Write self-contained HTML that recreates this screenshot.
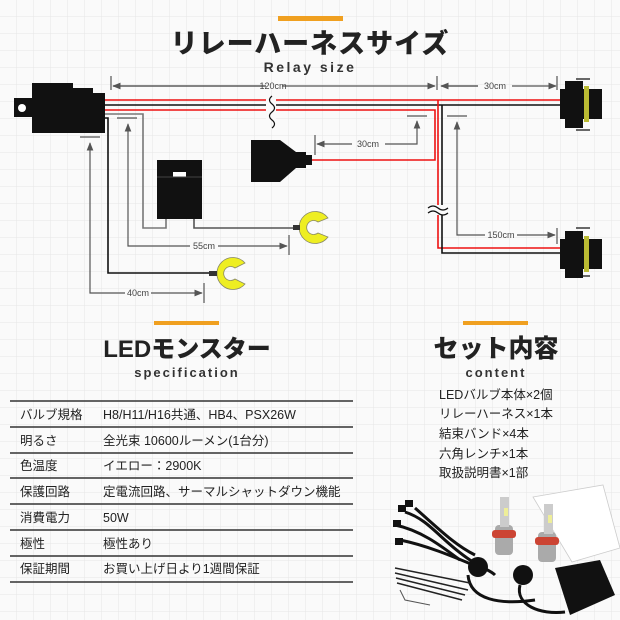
<!DOCTYPE html>
<html><head><meta charset="utf-8"><style>
html,body{margin:0;padding:0;}
body{width:620px;height:620px;overflow:hidden;background:#fafafa;}
svg{display:block;}
.jp{font-family:"Liberation Sans","Noto Sans CJK JP",sans-serif;}
</style></head><body>
<svg width="620" height="620" viewBox="0 0 620 620" xmlns="http://www.w3.org/2000/svg">
<defs>
<pattern id="g" width="17" height="17" patternUnits="userSpaceOnUse">
<path d="M17 0V17M0 17H17" stroke="#e6e6e6" stroke-width="1" fill="none"/>
</pattern>
<marker id="a" viewBox="0 0 10 10" refX="9" refY="5" markerWidth="7" markerHeight="7" orient="auto-start-reverse"><path d="M0 1L10 5L0 9z" fill="#555"/></marker>
</defs>
<rect width="620" height="620" fill="#fafafa"/>
<rect width="620" height="620" fill="url(#g)"/>

<!-- header -->
<rect x="278" y="16" width="65" height="5" fill="#f0a020"/>
<text x="310" y="53" text-anchor="middle" class="jp" font-size="27" font-weight="900" fill="#222" letter-spacing="1">リレーハーネスサイズ</text>
<text x="310" y="72" text-anchor="middle" font-family="Liberation Sans,sans-serif" font-size="14" font-weight="bold" fill="#333" letter-spacing="2.5">Relay size</text>

<!-- relay -->
<rect x="14" y="98" width="20" height="19" fill="#111"/>
<circle cx="22" cy="108" r="4" fill="#fff"/>
<path d="M32 83H73V88H93V93H105V133H32z" fill="#111"/>

<!-- main wires -->
<g fill="none" stroke-width="1.6">
<path d="M105 100H560" stroke="#e11"/>
<path d="M105 105H560" stroke="#111"/>
<path d="M105 110H435V160H312" stroke="#e11"/>
<path d="M438 100V248H560" stroke="#e11"/>
<path d="M442 105V253H560" stroke="#111"/>
<path d="M105 114H143V228H166V219" stroke="#777"/>
<path d="M194 219V228H295" stroke="#555"/>
<path d="M105 118H108V273H210" stroke="#111"/>
</g>
<!-- break marks -->
<rect x="266" y="98" width="10" height="22" fill="#fafafa"/>
<path d="M272 96q-5 4 0 8q5 4 0 8q-5 4 0 8q5 4 0 8" stroke="#111" fill="none" stroke-width="1.2"/>
<rect x="430" y="205" width="18" height="10" fill="#fafafa"/>
<path d="M428 208q5-4 10 0q5 4 10 0M428 213q5-4 10 0q5 4 10 0" stroke="#111" fill="none" stroke-width="1.2"/>

<!-- bulb connectors -->
<g fill="#111">
<rect x="560" y="89" width="42" height="30"/><rect x="565" y="81" width="18" height="47"/>
<rect x="560" y="239" width="42" height="30"/><rect x="565" y="231" width="18" height="47"/>
</g>
<rect x="584" y="86" width="5" height="36" fill="#bb3"/>
<rect x="584" y="236" width="5" height="36" fill="#bb3"/>
<path d="M576 79H590M576 130H590M576 228H590M576 276H590" stroke="#111" stroke-width="1.2"/>

<!-- middle connector -->
<path d="M251 140H280L296 152H306V168H296L280 182H251z" fill="#111"/>
<rect x="306" y="155" width="6" height="10" fill="#111"/>

<!-- fuse box -->
<rect x="157" y="160" width="45" height="59" fill="#111"/>
<rect x="173" y="172" width="13" height="5" fill="#fff"/>
<path d="M157 177H202" stroke="#444" stroke-width="1"/>

<!-- yellow terminals -->
<g fill="#ee2" stroke="#886" stroke-width="0.8">
<path d="M328 218A16 16 0 1 0 328 237L318 233A7 7 0 1 1 318 222z"/>
<path d="M245 263A16 16 0 1 0 245 284L235 279A7 7 0 1 1 235 268z"/>
</g>
<rect x="293" y="225" width="7" height="5" fill="#333"/>
<rect x="209" y="271" width="8" height="5" fill="#333"/>

<!-- dimensions -->
<g stroke="#555" stroke-width="1.2" fill="none">
<path d="M111 76V90M437 76V90M557 76V90"/>
<path d="M113 86H266M282 86H435" marker-end="url(#a)"/>
<path d="M113 86H266" marker-start="url(#a)" marker-end=""/>
<path d="M441 86H478M512 86H556" marker-end="url(#a)"/>
<path d="M441 86H478" marker-start="url(#a)" marker-end=""/>
<path d="M117 118H137M80 137H100M289 235V255M204 283V303M407 116H427M315 135V155M447 116H467M557 228V244"/>
<path d="M128 124V246H190" marker-start="url(#a)"/>
<path d="M218 246H287" marker-end="url(#a)"/>
<path d="M90 143V293H125" marker-start="url(#a)"/>
<path d="M151 293H202" marker-end="url(#a)"/>
<path d="M417 121V144H385" marker-start="url(#a)"/>
<path d="M352 144H317" marker-end="url(#a)"/>
<path d="M457 122V235H485" marker-start="url(#a)"/>
<path d="M517 235H555" marker-end="url(#a)"/>
</g>
<g font-family="Liberation Sans,sans-serif" font-size="9" fill="#444" text-anchor="middle">
<text x="273" y="89">120cm</text>
<text x="495" y="89">30cm</text>
<text x="368" y="147">30cm</text>
<text x="204" y="249">55cm</text>
<text x="138" y="296">40cm</text>
<text x="501" y="238">150cm</text>
</g>

<!-- bottom headers -->
<rect x="154" y="321" width="65" height="4" fill="#f0a020"/>
<rect x="463" y="321" width="65" height="4" fill="#f0a020"/>
<text x="187" y="357" text-anchor="middle" class="jp" font-size="24" font-weight="900" fill="#222">LEDモンスター</text>
<text x="187" y="377" text-anchor="middle" font-family="Liberation Sans,sans-serif" font-size="13" font-weight="bold" fill="#333" letter-spacing="2">specification</text>
<text x="496" y="357" text-anchor="middle" class="jp" font-size="25" font-weight="900" fill="#222">セット内容</text>
<text x="496" y="377" text-anchor="middle" font-family="Liberation Sans,sans-serif" font-size="13" font-weight="bold" fill="#333" letter-spacing="2">content</text>

<!-- table -->
<g stroke="#333" stroke-width="1.5">
<path d="M10 401H353M10 427H353M10 453H353M10 478H353M10 504H353M10 530H353M10 556H353M10 582H353"/>
</g>
<g class="jp" font-size="12.5" fill="#222">
<text x="20" y="419">バルブ規格</text><text x="103" y="419">H8/H11/H16共通、HB4、PSX26W</text>
<text x="20" y="445">明るさ</text><text x="103" y="445">全光束 10600ルーメン(1台分)</text>
<text x="20" y="470">色温度</text><text x="103" y="470">イエロー：2900K</text>
<text x="20" y="496">保護回路</text><text x="103" y="496">定電流回路、サーマルシャットダウン機能</text>
<text x="20" y="522">消費電力</text><text x="103" y="522">50W</text>
<text x="20" y="548">極性</text><text x="103" y="548">極性あり</text>
<text x="20" y="573">保証期間</text><text x="103" y="573">お買い上げ日より1週間保証</text>
</g>
<g class="jp" font-size="12.5" fill="#222">
<text x="439" y="399">LEDバルブ本体×2個</text>
<text x="439" y="418">リレーハーネス×1本</text>
<text x="439" y="438">結束バンド×4本</text>
<text x="439" y="458">六角レンチ×1本</text>
<text x="439" y="477">取扱説明書×1部</text>
</g>

<!-- product photo -->
<path d="M533 497L603 485L620 548L572 562z" fill="#fff" stroke="#ccc" stroke-width="0.8"/>
<g fill="none" stroke="#111" stroke-width="3">
<path d="M405 512C430 520 440 540 470 560C485 570 490 570 495 575"/>
<path d="M395 525C420 530 440 545 460 560"/>
<path d="M400 540C425 545 450 555 485 570"/>
<path d="M415 508C440 530 455 545 475 555"/>
<path d="M468 575C470 600 500 605 535 600"/>
<path d="M520 585C515 605 540 615 565 612"/>
</g>
<g fill="#111">
<rect x="398" y="505" width="8" height="7"/><rect x="405" y="500" width="8" height="7"/><rect x="393" y="520" width="8" height="7"/><rect x="395" y="538" width="8" height="7"/>
<ellipse cx="478" cy="567" rx="10" ry="10"/><ellipse cx="523" cy="575" rx="10" ry="10"/>
<path d="M555 568L600 560L615 595L570 615z"/>
</g>
<g fill="#aaa"><rect x="495" y="525" width="18" height="30" rx="4"/><rect x="538" y="532" width="18" height="30" rx="4"/></g>
<g fill="#c43"><rect x="492" y="530" width="24" height="8" rx="3"/><rect x="535" y="537" width="24" height="8" rx="3"/></g>
<g fill="#ccc"><rect x="500" y="497" width="9" height="30"/><rect x="544" y="504" width="9" height="30"/></g>
<g fill="#ee9"><rect x="504" y="508" width="4" height="8"/><rect x="548" y="515" width="4" height="8"/></g>
<g stroke="#222" stroke-width="1.5"><path d="M395 568L470 583M395 573L468 590M396 578L465 595M397 583L462 600"/></g>
<path d="M400 590L405 600L430 605" stroke="#555" stroke-width="1" fill="none"/>
</svg>
</body></html>
